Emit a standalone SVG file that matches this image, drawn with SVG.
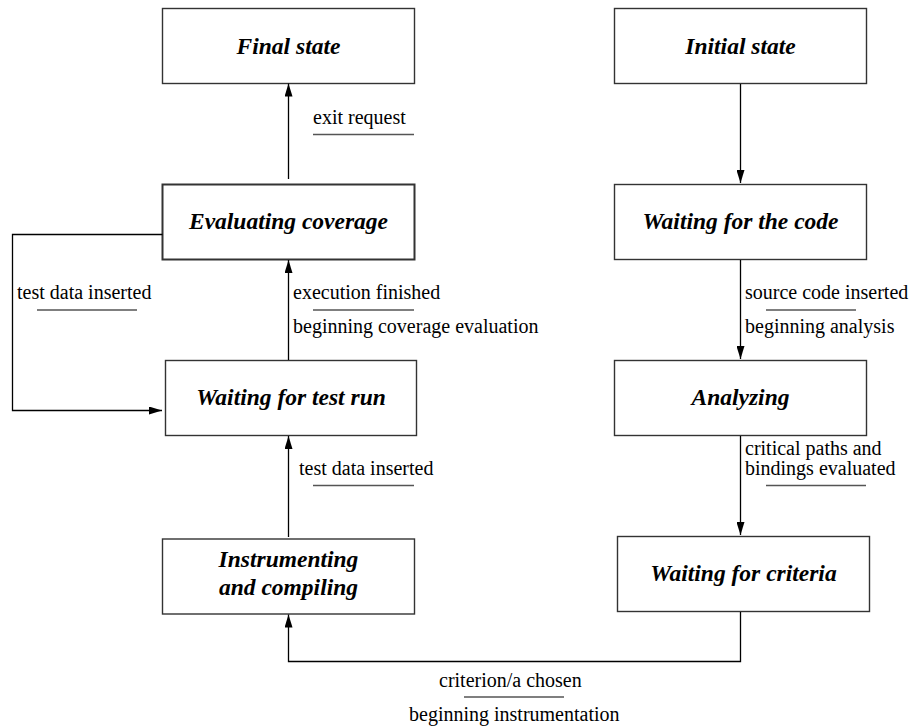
<svg xmlns="http://www.w3.org/2000/svg" width="912" height="727" viewBox="0 0 912 727">
<style>
.box{fill:#fff;stroke:#333;stroke-width:1.4}
.bold{stroke-width:2}
.nl{font-family:"Liberation Serif","Times New Roman",serif;font-weight:bold;font-style:italic;font-size:23.5px;fill:#000;text-anchor:middle}
.el{font-family:"Liberation Serif","Times New Roman",serif;font-size:20px;fill:#000}
.conn{fill:none;stroke:#000;stroke-width:1.3}
.ul{stroke:#555;stroke-width:1.4}
</style>
<defs>
<marker id="ah" markerUnits="userSpaceOnUse" markerWidth="13" markerHeight="8" refX="13" refY="4" orient="auto">
<path d="M0,0 L13,4 L0,8 z" fill="#000"/>
</marker>
</defs>
<rect width="912" height="727" fill="#fff"/>
<g id="final"><rect class="box" x="162.5" y="8.5" width="252" height="75"/><text class="nl" x="288.5" y="54">Final state</text></g>
<g id="evaluating"><rect class="box bold" x="162.5" y="184.5" width="252" height="75"/><text class="nl" x="288.5" y="229">Evaluating coverage</text></g>
<g id="waitrun"><rect class="box" x="165.5" y="360.5" width="251" height="75"/><text class="nl" x="291" y="405">Waiting for test run</text></g>
<g id="instr"><rect class="box" x="162.5" y="539" width="252" height="75"/><text class="nl" x="288.5" y="567">Instrumenting</text><text class="nl" x="288.5" y="595">and compiling</text></g>
<g id="initial"><rect class="box" x="614.5" y="8.5" width="252" height="75"/><text class="nl" x="740.5" y="54">Initial state</text></g>
<g id="waitcode"><rect class="box" x="614.5" y="184.5" width="252" height="75"/><text class="nl" x="740.5" y="229">Waiting for the code</text></g>
<g id="analyzing"><rect class="box" x="614.5" y="360.5" width="252" height="75"/><text class="nl" x="740.5" y="405">Analyzing</text></g>
<g id="waitcrit"><rect class="box" x="617.5" y="536.5" width="252" height="75"/><text class="nl" x="743.5" y="581">Waiting for criteria</text></g>
<g id="connectors">
<path class="conn" d="M288.5,179 V83.5" marker-end="url(#ah)"/>
<path class="conn" d="M288.5,360 V260" marker-end="url(#ah)"/>
<path class="conn" d="M288.5,537 V436" marker-end="url(#ah)"/>
<path class="conn" d="M162.5,234.5 H12.5 V410.5 H162" marker-end="url(#ah)"/>
<path class="conn" d="M740.5,84 V183" marker-end="url(#ah)"/>
<path class="conn" d="M740.5,260 V359" marker-end="url(#ah)"/>
<path class="conn" d="M740.5,436 V535" marker-end="url(#ah)"/>
<path class="conn" d="M740.5,612 V661.5 H288.5 V614.5" marker-end="url(#ah)"/>
<text class="el" x="313" y="124">exit request</text>
<line class="ul" x1="313" y1="134.5" x2="414" y2="134.5"/>
<text class="el" x="17" y="299">test data inserted</text>
<line class="ul" x1="37" y1="310" x2="137" y2="310"/>
<text class="el" x="293" y="299">execution finished</text>
<line class="ul" x1="313" y1="310" x2="414" y2="310"/>
<text class="el" x="293" y="333">beginning coverage evaluation</text>
<text class="el" x="299" y="475">test data inserted</text>
<line class="ul" x1="313" y1="485.5" x2="414" y2="485.5"/>
<text class="el" x="745" y="299">source code inserted</text>
<line class="ul" x1="766" y1="310" x2="856" y2="310"/>
<text class="el" x="745" y="333">beginning analysis</text>
<text class="el" x="745" y="455">critical paths and</text>
<text class="el" x="745" y="475">bindings evaluated</text>
<line class="ul" x1="766" y1="485.5" x2="866" y2="485.5"/>
<text class="el" x="439" y="687">criterion/a chosen</text>
<line class="ul" x1="464" y1="697" x2="564" y2="697"/>
<text class="el" x="409" y="721">beginning instrumentation</text>
</g>
</svg>
